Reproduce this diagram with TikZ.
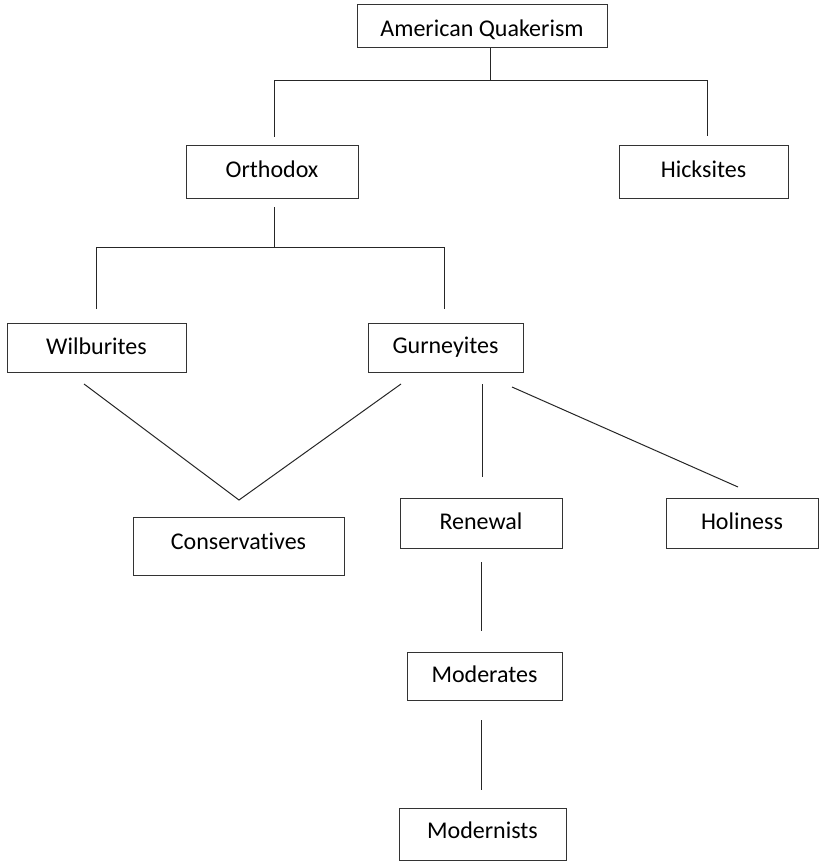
\documentclass[tikz,border=0pt]{standalone}
\usepackage{fontspec}
\setmainfont{Carlito}[Ligatures={NoCommon,NoContextual}]
\begin{document}
\begin{tikzpicture}[x=1pt,y=-1pt,
  box/.style={draw=black!80, line width=1pt, inner sep=0pt, fill=white,
    font=\fontsize{24}{28}\selectfont},
  bx/.style n args={4}{minimum width=#1pt, minimum height=#2pt, text height=#3pt, text depth=#4pt},
  conn/.style={draw=black!85, line width=1pt}]
\useasboundingbox (0,0) rectangle (819,861);

\node[box, bx={250}{43}{22}{1}]  (aq)    at (482,26.5)  {American Quakerism};
\node[box, bx={172}{52}{22}{10}] (orth)  at (272,172)   {Orthodox};
\node[box, bx={169}{52}{22}{10}] (hick)  at (703.5,172) {Hicksites};
\node[box, bx={179}{49}{22}{9}]  (wilb)  at (96.5,347.5) {Wilburites};
\node[box, bx={155}{49}{22}{11}] (gurn)  at (445.5,347.5) {Gurneyites};
\node[box, bx={211}{58}{22}{16}] (cons)  at (238.5,546) {Conservatives};
\node[box, bx={162}{50}{22}{10}] (renew) at (481,523)   {Renewal};
\node[box, bx={152}{50}{22}{10}] (holi)  at (742,523)   {Holiness};
\node[box, bx={155}{48}{22}{10}] (mode)  at (484.5,676) {Moderates};
\node[box, bx={167}{52}{22}{14}] (modn)  at (482.5,834) {Modernists};

% connector end points (lines stop short of the boxes)
\coordinate (aqS)   at (490,48);
\coordinate (orthN) at (274,137);
\coordinate (hickN) at (707,136);
\coordinate (orthS) at (274,207);
\coordinate (wilbN) at (96,309);
\coordinate (gurnN) at (444,309);
\coordinate (wilbS) at (84,384);
\coordinate (consN) at (239,500);
\coordinate (gurnSW) at (401,384);
\coordinate (gurnS) at (482,384);
\coordinate (renewN) at (482,477);
\coordinate (gurnSE) at (512,387);
\coordinate (holiN) at (738,487);
\coordinate (renewS) at (481,562);
\coordinate (modeN) at (481,631);
\coordinate (modeS) at (481.5,720);
\coordinate (modnN) at (481.5,790);

\draw[conn] (aqS) -- (aqS |- 0,81);
\draw[conn] (orthN) -- (orthN |- 0,81) -- (hickN |- 0,81) -- (hickN);
\draw[conn] (orthS) -- (orthS |- 0,247);
\draw[conn] (wilbN) -- (wilbN |- 0,247) -- (gurnN |- 0,247) -- (gurnN);
\draw[conn] (wilbS) -- (consN) -- (gurnSW);
\draw[conn] (gurnS) -- (renewN);
\draw[conn] (gurnSE) -- (holiN);
\draw[conn] (renewS) -- (modeN);
\draw[conn] (modeS) -- (modnN);
\end{tikzpicture}
\end{document}
